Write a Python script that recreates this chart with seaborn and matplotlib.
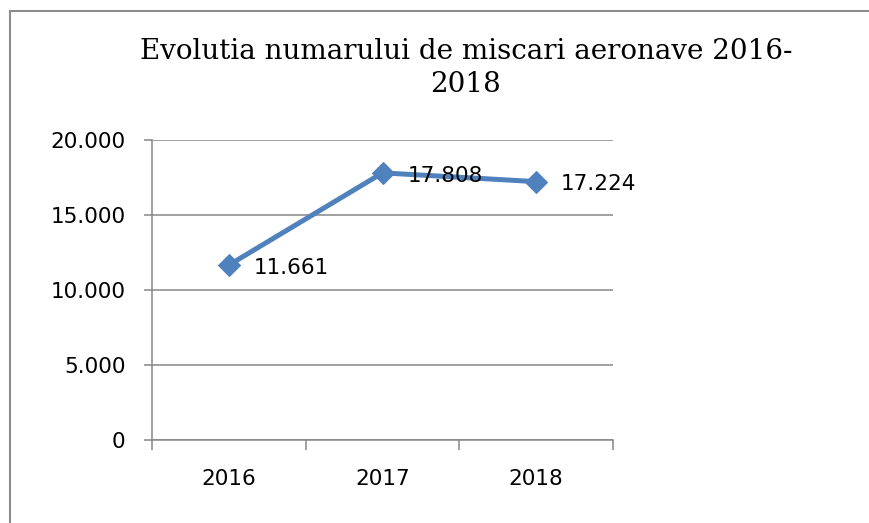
import matplotlib
matplotlib.use("Agg")
import matplotlib.pyplot as plt
import matplotlib.patches as patches
from matplotlib.ticker import FuncFormatter, FixedLocator
import seaborn as sns
import pandas as pd

# data
years = ["2016", "2017", "2018"]
movements = [11661, 17808, 17224]
y_ticks = [0, 5000, 10000, 15000, 20000]

title = "Evolutia numarului de miscari aeronave 2016-\n2018"
line_color = "#4F81BD"
grid_color = "#868686"


def ro_thousands(v, pos=None):
    # 17808 -> "17.808"
    return f"{int(v):,}".replace(",", ".")


sns.set_theme(style="white")
plt.rcParams["font.family"] = ["DejaVu Sans"]

df = pd.DataFrame({"year": years, "value": movements})

fig = plt.figure(figsize=(8.7, 5.23), dpi=100)
ax = fig.add_axes([152 / 870, 83 / 523, 461 / 870, 300 / 523])

sns.lineplot(data=df, x="year", y="value", ax=ax, color=line_color,
             linewidth=3.6, marker="D", markersize=11,
             markeredgecolor=line_color, markerfacecolor=line_color)

# data labels to the right of each point
for i, v in enumerate(movements):
    ax.annotate(ro_thousands(v), (i, v), xytext=(18, -2),
                textcoords="offset points", ha="left", va="center",
                fontsize=15.5, color="black")

ax.set_ylim(0, 20000)
ax.set_xlim(-0.5, 2.5)
ax.yaxis.set_major_locator(FixedLocator(y_ticks))
ax.yaxis.set_major_formatter(FuncFormatter(ro_thousands))
ax.grid(axis="y", color=grid_color, linewidth=1.1)
ax.grid(axis="x", visible=False)

# tick marks between categories, labels centred under them
ax.set_xticks([-0.5, 0.5, 1.5, 2.5])
ax.set_xticklabels([])
ax.set_xticks(range(len(years)), minor=True)
ax.set_xticklabels(years, minor=True)
ax.tick_params(axis="x", which="major", length=7, width=1.1,
               color=grid_color, direction="out", bottom=True)
ax.tick_params(axis="x", which="minor", length=0, pad=21, labelsize=15.5,
               labelcolor="black")
ax.tick_params(axis="y", length=6, width=1.1, color=grid_color,
               direction="out", left=True, pad=13, labelsize=15.5,
               labelcolor="black")

ax.set_xlabel("")
ax.set_ylabel("")
for side in ["top", "right"]:
    ax.spines[side].set_visible(False)
for side in ["left", "bottom"]:
    ax.spines[side].set_color(grid_color)
    ax.spines[side].set_linewidth(1.1)

fig.text(466 / 870, 1 - 68 / 523, title, ha="center", va="center",
         fontsize=20, family="DejaVu Serif", linespacing=1.3, color="black")

# chart area border, running off the right and bottom edges
fig.patches.append(patches.Rectangle((10 / 870, -0.05), 1.1, 1.05 - 11 / 523,
                                     transform=fig.transFigure, fill=False,
                                     edgecolor="#8c8c8c", linewidth=1.5))

fig.savefig("out.png", dpi=100, facecolor="white")
